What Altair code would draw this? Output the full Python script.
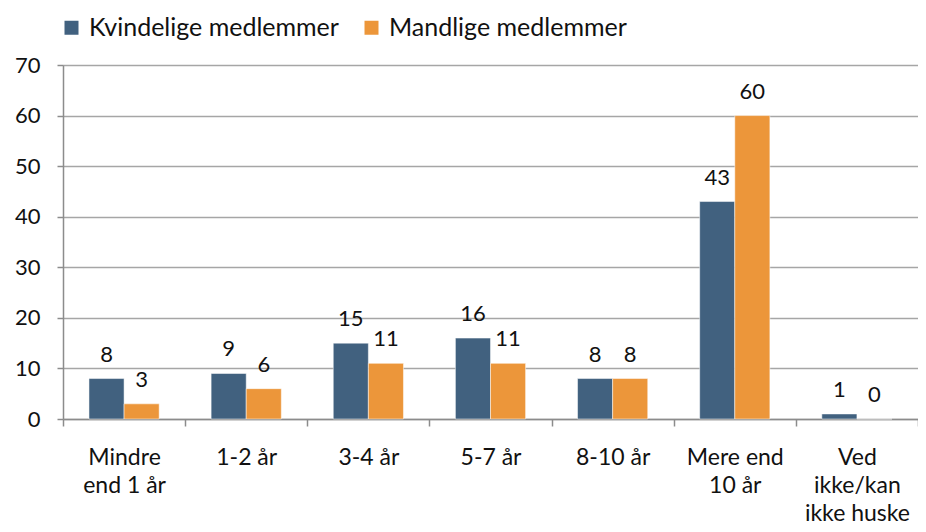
import altair as alt
import pandas as pd

categories = ["Mindre|end 1 år", "1-2 år", "3-4 år", "5-7 år", "8-10 år", "Mere end|10 år", "Ved|ikke/kan|ikke huske"]
series = ["Kvindelige medlemmer", "Mandlige medlemmer"]
kvinder = [8, 9, 15, 16, 8, 43, 1]
maend = [3, 6, 11, 11, 8, 60, 0]
colors = ["#41617F", "#EC963A"]
y_ticks = [0, 10, 20, 30, 40, 50, 60, 70]

rows = []
for c, k, m in zip(categories, kvinder, maend):
    rows.append({"cat": c, "serie": series[0], "val": k})
    rows.append({"cat": c, "serie": series[1], "val": m})
df = pd.DataFrame(rows)

FONT = "Lato"

x_enc = alt.X("cat:N", sort=categories, title=None,
              scale=alt.Scale(paddingInner=0, paddingOuter=0),
              axis=alt.Axis(labelExpr="split(datum.label, '|')", labelAngle=0,
                            labelFontSize=23, labelLineHeight=28, labelPadding=20,
                            labelBaseline="top", tickBand="extent", tickSize=7,
                            tickColor="#8c8c8c", domainColor="#8c8c8c", tickWidth=1.5,
                            domainWidth=1.5, grid=False, labelColor="#111",
                            labelFont=FONT))
xo_enc = alt.XOffset("serie:N", sort=series, scale=alt.Scale(paddingOuter=0.74, paddingInner=0))
y_enc = alt.Y("val:Q", title=None,
              scale=alt.Scale(domain=[0, 70]),
              axis=alt.Axis(values=y_ticks, labelFontSize=22, labelPadding=17, tickSize=6,
                            tickColor="#8c8c8c", domainColor="#8c8c8c", tickWidth=1.5,
                            domainWidth=1.5, gridColor="#a6a6a6", gridWidth=1.5,
                            labelColor="#111", labelFont=FONT))

bars = alt.Chart(df).mark_bar(stroke="white", strokeWidth=0.5).encode(
    x=x_enc, xOffset=xo_enc, y=y_enc,
    color=alt.Color("serie:N", sort=series, title=None,
                    scale=alt.Scale(domain=series, range=colors),
                    legend=alt.Legend(orient="none", legendX=-4, legendY=-50,
                                      direction="horizontal", symbolType="square",
                                      symbolSize=196, symbolStrokeWidth=0,
                                      labelFontSize=25, labelFont=FONT, labelColor="#111",
                                      columnPadding=20, labelOffset=5, labelLimit=400))
)

labels = alt.Chart(df).mark_text(baseline="bottom", dy=-12, fontSize=22, font=FONT, color="#111").encode(
    x=alt.X("cat:N", sort=categories), xOffset=alt.XOffset("serie:N", sort=series), y="val:Q",
    text="val:Q"
)

chart = alt.layer(bars, labels).properties(
    width=855, height=354,
    padding={"left": 55, "top": 57, "right": 0, "bottom": 108},
    autosize=alt.AutoSizeParams(type="none"),
).configure_view(stroke=None).configure(font=FONT)

chart.save("out.html", embed_options={"renderer": "svg", "actions": False})
